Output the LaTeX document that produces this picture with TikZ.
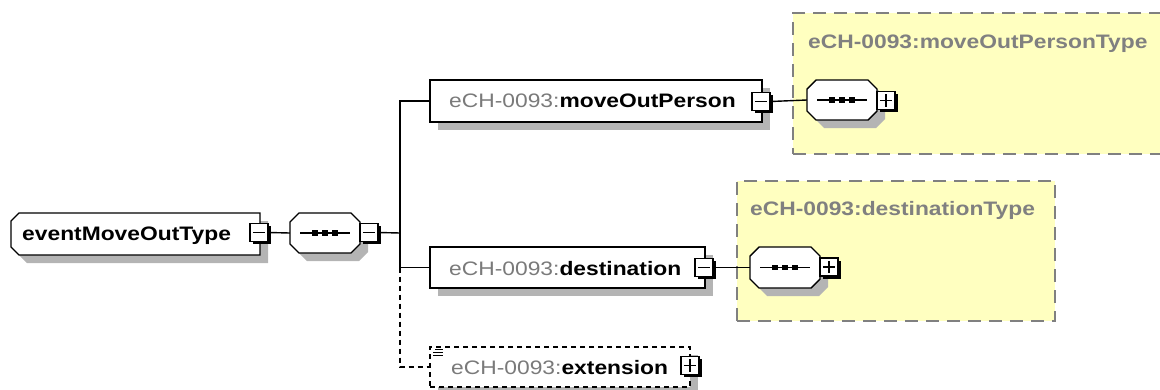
\documentclass[tikz,border=0pt]{standalone}
\usepackage{fontspec}
\setmainfont{Liberation Sans}[FakeStretch=1.17]
\definecolor{shadowgray}{HTML}{B4B4B4}
\definecolor{typefill}{HTML}{FFFFC0}
\definecolor{typeborder}{HTML}{808080}
\definecolor{nsgray}{HTML}{7A7A7A}
% outline of a box whose left and right corners are cut:
% x1, y1, x2, y2, left cut, right cut
\newcommand\cutboxpath[6]{(#1+#5,#2) -- (#3-#6,#2) -- (#3,#2+#6) -- (#3,#4-#6) -- (#3-#6,#4)
  -- (#1+#5,#4) -- (#1,#4-#5) -- (#1,#2+#5) -- cycle}
% shadowed, cut-corner box named #1, spanning (#2,#3)-(#4,#5), cuts #6 / #7
\newcommand\cutbox[7]{%
  \fill[shadowgray, shift={(8,8)}] \cutboxpath{#2}{#3}{#4}{#5}{#6}{#7};
  \draw[line width=1.4pt, fill=white] \cutboxpath{#2}{#3}{#4}{#5}{#6}{#7};
  \node[anchorbox, minimum width=#4-#2, minimum height=#5-#3] (#1) at ({(#2+#4)/2},{(#3+#5)/2}) {};}
% sequence compositor named #1 spanning (#2,#3)-(#4,#5)
\newcommand\seqbox[5]{%
  \cutbox{#1}{#2}{#3}{#4}{#5}{9}{9}%
  \draw[line width=1.3pt] ([xshift=-25pt]#1.center) -- ([xshift=25pt]#1.center);
  \foreach \dx in {-10,0,10}
    \fill[black] ([xshift=\dx pt]#1.center) +(-2.6pt,-2.6pt) rectangle +(2.6pt,2.6pt);}
\tikzset{
  lbl/.style={font=\fontsize{19.5}{22}\selectfont, inner sep=0pt, anchor=base west},
  anchorbox/.style={rectangle, draw=none, inner sep=0pt},
  elembox/.style={rectangle, draw, line width=1.4pt, fill=white, inner sep=0pt},
  optbox/.style={elembox, dash pattern=on 5pt off 4pt},
  typebox/.style={rectangle, fill=typefill, draw=typeborder, line width=1.6pt,
    dash pattern=on 13pt off 8pt, inner sep=0pt},
  toggle/.style={rectangle, draw, line width=1.3pt, fill=white, minimum size=18pt, inner sep=0pt},
  togglemark/.style={line width=1.3pt},
  link/.style={line width=1.4pt},
  optlink/.style={link, dash pattern=on 5pt off 4pt}
}
% expand/collapse toggles with a hard black shadow
\newcommand\minusbox[3]{%
  \fill[black] (#2-9+2.5,#3-9+2.5) rectangle (#2+9+2.5,#3+9+2.5);
  \node[toggle] (#1) at (#2,#3) {};
  \draw[togglemark] ([xshift=3.5pt]#1.west) -- ([xshift=-3.5pt]#1.east);}
\newcommand\plusbox[3]{%
  \minusbox{#1}{#2}{#3}%
  \draw[togglemark] ([yshift=3.5pt]#1.south) -- ([yshift=-3.5pt]#1.north);}
\begin{document}
\begin{tikzpicture}[x=1pt,y=-1pt]
\useasboundingbox (0,0) rectangle (1160,389);
\clip (0,0) rectangle (1160,389);

% complex type containers
\node[typebox, minimum width=387pt, minimum height=141pt] (t1) at (986.5,83.5) {};
\node[lbl, text=typeborder] (t1lbl) at (808,48) {\textbf{eCH-0093:moveOutPersonType}};
\node[typebox, minimum width=318pt, minimum height=140pt] (t2) at (896,251) {};
\node[lbl, text=typeborder] (t2lbl) at (750,215) {\textbf{eCH-0093:destinationType}};

% root element and its sequence
\cutbox{root}{11}{213}{260}{255}{8}{0}
\node[lbl] (rootlbl) at (22,240) {\textbf{eventMoveOutType}};
\minusbox{rootmin}{259}{232.5}
\seqbox{seq1}{290}{213}{360}{253}
\minusbox{seq1min}{369}{232.5}
\coordinate (fork) at (400,233);

% child elements
\fill[shadowgray] (438,88) rectangle (770,130);
\node[elembox, minimum width=332pt, minimum height=42pt] (mop) at (596,101) {};
\node[lbl] (moplbl) at (449,107) {{\color{nsgray}eCH-0093:}\textbf{moveOutPerson}};
\minusbox{mopmin}{761}{101.5}

\fill[shadowgray] (438,255) rectangle (713,296);
\node[elembox, minimum width=275pt, minimum height=41pt] (dest) at (567.5,267.5) {};
\node[lbl] (destlbl) at (449,275) {{\color{nsgray}eCH-0093:}\textbf{destination}};
\minusbox{destmin}{704}{267.5}

\fill[shadowgray] (438,355) rectangle (698,395);
\node[optbox, minimum width=260pt, minimum height=40pt] (ext) at (560,367) {};
\node[lbl] (extlbl) at (451,374) {{\color{nsgray}eCH-0093:}\textbf{extension}};
\plusbox{extplus}{690}{365.5}
% documentation mark
\draw[line width=1.1pt] ([xshift=6pt,yshift=-3pt]ext.north west) -- +(8pt,0)
  ([xshift=4pt,yshift=-6pt]ext.north west) -- +(10pt,0)
  ([xshift=4pt,yshift=-9pt]ext.north west) -- +(10pt,0);

% type content models
\seqbox{seq2}{807}{80}{877}{120}
\plusbox{seq2plus}{886}{100.5}
\seqbox{seq3}{750}{247}{820}{288}
\plusbox{seq3plus}{829}{267}

% connectors
\draw[link] (rootmin.east) -- (seq1.west);
\draw[link] (seq1min.east) -- (fork);
\draw[link] (mop.west) -- (mop.west -| fork) -- (dest.west -| fork) -- (dest.west);
\draw[optlink] (dest.west -| fork) -- (ext.west -| fork) -- (ext.west);
\draw[link] (mopmin.east) -- (seq2.west);
\draw[link] (destmin.east) -- (seq3.west);
\end{tikzpicture}
\end{document}
